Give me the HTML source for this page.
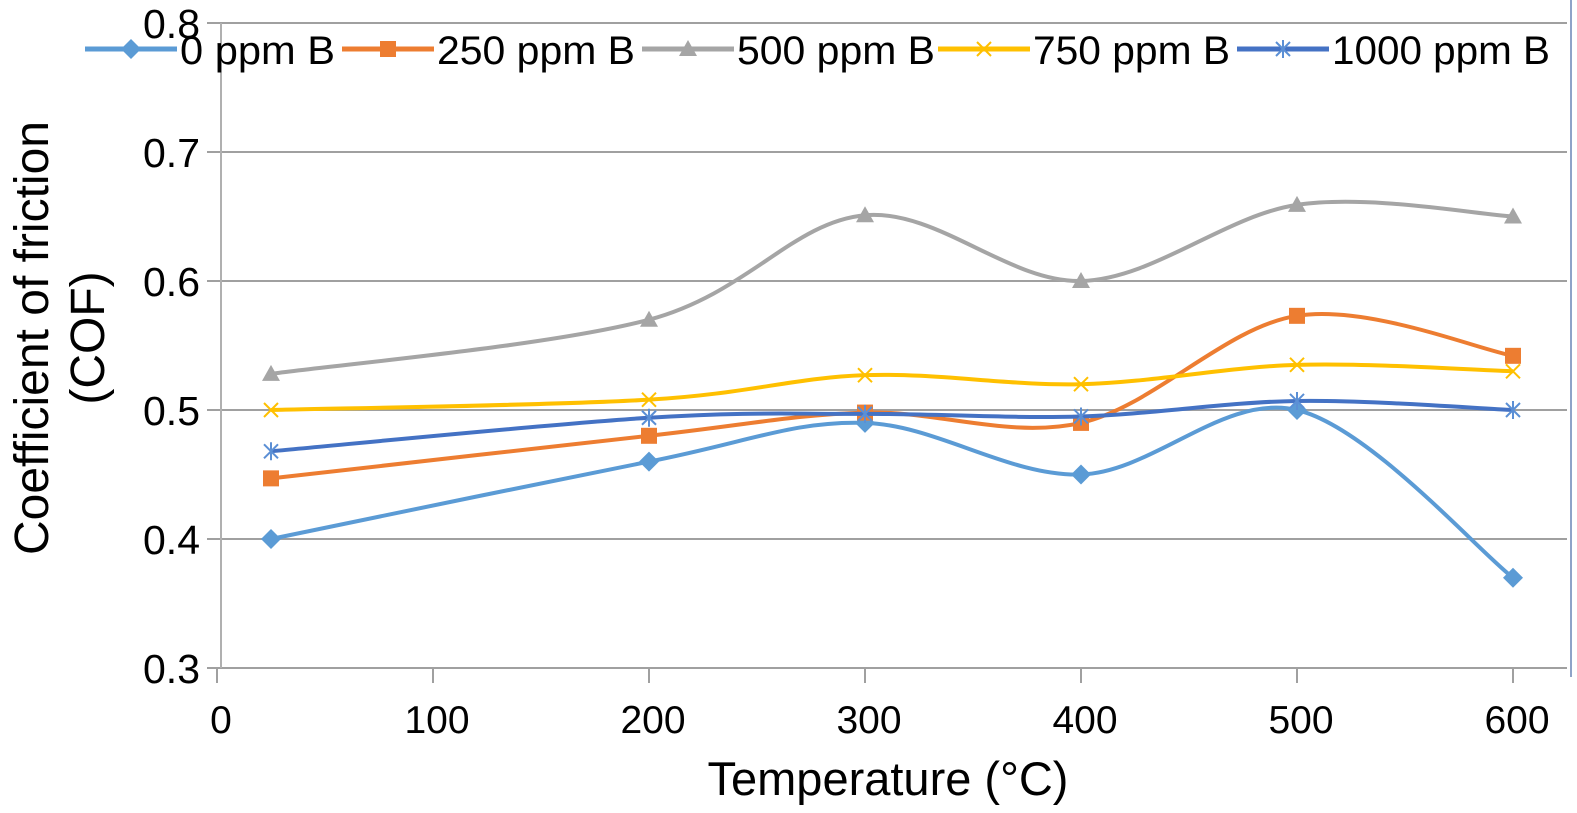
<!DOCTYPE html>
<html><head><meta charset="utf-8"><style>
body{margin:0;background:#fff;}
svg{display:block;font-family:"Liberation Sans",sans-serif;}
</style></head><body>
<svg id="chart" width="1577" height="813"></svg>
<script>
const xValues=[25,200,300,400,500,600];
const seriesNames=["0 ppm B","250 ppm B","500 ppm B","750 ppm B","1000 ppm B"];
const s0=[0.40,0.46,0.49,0.45,0.50,0.37];
const s250=[0.447,0.48,0.498,0.49,0.573,0.542];
const s500=[0.528,0.57,0.651,0.60,0.659,0.65];
const s750=[0.50,0.508,0.527,0.52,0.535,0.53];
const s1000=[0.468,0.494,0.497,0.495,0.507,0.50];
const xTicks=[0,100,200,300,400,500,600];
const yTicks=[0.3,0.4,0.5,0.6,0.7,0.8];
const colors=["#5b9bd5","#ed7d31","#a5a5a5","#ffc000","#4472c4"];
const markers=["diamond","square","triangle","x","star"];
const allSeries=[s0,s250,s500,s750,s1000];
const NS="http://www.w3.org/2000/svg";
const svg=document.getElementById('chart');
const X=v=>217+v*2.16;
const Y=v=>668-(v-0.3)*1290;
function mk(t,a,p){const e=document.createElementNS(NS,t);for(const k in a)e.setAttribute(k,a[k]);(p||svg).appendChild(e);return e;}
yTicks.forEach(t=>{
 const g=mk('line',{x1:207,x2:1567,y1:Y(t),y2:Y(t),stroke:'#a0a0a0','stroke-width':2});
 
 
 const l=mk('text',{x:200,y:Y(t)+15,'text-anchor':'end','font-size':41});
 l.textContent=t.toFixed(1);
 
 
});
const ya=mk('line',{x1:221,x2:221,y1:23,y2:668,stroke:'#b0b0b0','stroke-width':2});

const rb=mk('line',{x1:1571,x2:1571,y1:0,y2:677,stroke:'#8fa3c8','stroke-width':2});

xTicks.forEach(t=>{
 const k=mk('line',{x1:X(t),x2:X(t),y1:668,y2:683,stroke:'#a0a0a0','stroke-width':2});
 
 const l=mk('text',{x:X(t)+4,y:733,'text-anchor':'middle','font-size':39});
 l.textContent=t;
 
});
const xt=mk('text',{x:888,y:795,'text-anchor':'middle','font-size':47});
xt.textContent='Temperature (°C)';

const yt=mk('text',{transform:'translate(0,338) rotate(-90)','text-anchor':'middle','font-size':48});

const t1=mk('tspan',{x:0,y:48},yt);t1.textContent='Coefficient of friction';
const t2=mk('tspan',{x:0,y:104},yt);t2.textContent='(COF)';
function smoothPath(pts){
 let d=`M${pts[0][0]},${pts[0][1]}`;
 for(let i=0;i<pts.length-1;i++){
  const p0=pts[i-1]||pts[i],p1=pts[i],p2=pts[i+1],p3=pts[i+2]||p2;
  const c1=[p1[0]+(p2[0]-p0[0])/6,p1[1]+(p2[1]-p0[1])/6];
  const c2=[p2[0]-(p3[0]-p1[0])/6,p2[1]-(p3[1]-p1[1])/6];
  d+=`C${c1[0]},${c1[1]} ${c2[0]},${c2[1]} ${p2[0]},${p2[1]}`;
 }
 return d;
}
function marker(type,x,y,c,p){
 let e;
 if(type==='diamond')e=mk('polygon',{points:`${x},${y-10} ${x+10},${y} ${x},${y+10} ${x-10},${y}`,fill:c},p);
 else if(type==='square')e=mk('rect',{x:x-8,y:y-8,width:16,height:16,fill:c},p);
 else if(type==='triangle')e=mk('polygon',{points:`${x},${y-9} ${x+9},${y+7} ${x-9},${y+7}`,fill:c},p);
 else if(type==='x')e=mk('path',{d:`M${x-7},${y-7}L${x+7},${y+7}M${x-7},${y+7}L${x+7},${y-7}`,stroke:c,'stroke-width':2},p);
 else e=mk('path',{d:`M${x-7},${y-7}L${x+7},${y+7}M${x-7},${y+7}L${x+7},${y-7}M${x},${y-9}L${x},${y+9}`,stroke:'#5b8fd5','stroke-width':2},p);
 return e;
}
allSeries.forEach((s,i)=>{
 const g=mk('g',{});
 
 
 const pts=s.map((v,j)=>[X(xValues[j]),Y(v)]);
 const ln=mk('path',{d:smoothPath(pts),fill:'none',stroke:colors[i],'stroke-width':4},g);
 
 pts.forEach(p=>{const m=marker(markers[i],p[0],p[1],colors[i],g);
  });
});
const lt=[180,437,737,1033,1332];
const tw=[155,198,198,197,218];
seriesNames.forEach((n,i)=>{
 const g=mk('g',{});
 
 
 const x0=lt[i]-95;
 mk('line',{x1:x0,x2:x0+92,y1:49,y2:49,stroke:colors[i],'stroke-width':5},g);
 marker(markers[i],x0+46,49,colors[i],g);
 const t=mk('text',{x:lt[i],y:64,'font-size':40,textLength:tw[i],lengthAdjust:'spacingAndGlyphs'},g);t.textContent=n;
});
</script>
</body></html>
